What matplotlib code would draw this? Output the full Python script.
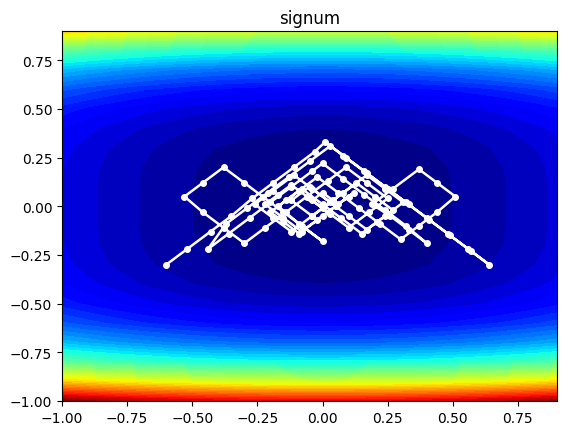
import numpy as np
import matplotlib
matplotlib.use("Agg")
import matplotlib.pyplot as plt

# optimizer path
path_x = [-0.60, -0.52, -0.43, -0.35, -0.27, -0.19, -0.11, -0.03, 0.01,
          0.09, 0.17, 0.25, 0.33, 0.41, 0.49, 0.57, 0.64,
          0.56, 0.48, 0.40, 0.32, 0.24, 0.16, 0.08, 0.03,
          -0.05, -0.13, -0.21, -0.29, -0.37, -0.44,
          -0.36, -0.28, -0.20, -0.12, -0.04, 0.00,
          0.08, 0.16, 0.24, 0.32, 0.40,
          0.33, 0.26, 0.19, 0.27, 0.37, 0.44, 0.51, 0.44, 0.37, 0.30,
          0.22, 0.14, 0.06, -0.02, -0.09, -0.17, -0.09, 0.00,
          -0.08, -0.15, -0.23, -0.30, -0.38, -0.46, -0.53, -0.46, -0.38, -0.30,
          -0.22, -0.14, -0.06, 0.02, 0.09, 0.17, 0.25, 0.18, 0.10,
          0.03, -0.05, -0.12, -0.17, -0.22, -0.15, -0.08, 0.00, 0.06, 0.12,
          0.05, -0.05, -0.12, -0.04, 0.04, 0.00, -0.04, 0.00,
          0.08, 0.17, 0.24, 0.31, 0.24, 0.17, 0.10, 0.03, -0.04, -0.11,
          -0.19, -0.26, -0.19, -0.12, -0.04, 0.04, 0.13, 0.20, 0.27,
          0.21, 0.15, 0.07, 0.00, -0.08, -0.14, -0.20, -0.15, -0.09,
          -0.02, 0.05, 0.10]
path_y = [-0.30, -0.22, -0.13, -0.05, 0.04, 0.12, 0.20, 0.28, 0.33,
          0.25, 0.17, 0.09, 0.01, -0.07, -0.15, -0.23, -0.30,
          -0.22, -0.14, -0.06, 0.02, 0.10, 0.18, 0.26, 0.31,
          0.23, 0.15, 0.07, -0.01, -0.09, -0.22,
          -0.14, -0.06, 0.02, 0.10, 0.18, 0.22,
          0.14, 0.06, -0.02, -0.10, -0.19,
          -0.12, -0.05, 0.01, 0.09, 0.19, 0.12, 0.05, -0.03, -0.10, -0.17,
          -0.09, -0.01, 0.07, 0.15, 0.08, 0.00, -0.09, -0.18,
          -0.10, -0.03, 0.05, 0.12, 0.20, 0.12, 0.05, -0.03, -0.11, -0.19,
          -0.11, -0.03, 0.05, 0.13, 0.20, 0.12, 0.04, -0.03, -0.11,
          -0.04, 0.04, 0.11, 0.06, 0.01, -0.06, -0.13, -0.05, 0.01, 0.07,
          0.00, 0.10, 0.03, -0.05, 0.03, 0.07, 0.03, -0.01,
          0.07, 0.16, 0.09, 0.02, -0.05, -0.12, -0.05, 0.02, 0.09, 0.16,
          0.08, 0.01, -0.06, -0.13, -0.05, 0.03, 0.12, 0.05, -0.02,
          -0.08, -0.14, -0.06, 0.01, 0.09, 0.03, -0.03, -0.08, -0.14,
          -0.07, 0.00, 0.05]

# surface coefficients
coef_x2 = 1.0
coef_y4 = 10.0
level_step = 0.25

xs = np.arange(-1, 1, 0.1)
ys = np.arange(-1, 1, 0.1)
X, Y = np.meshgrid(xs, ys)
Z = coef_x2 * X**2 + coef_y4 * Y**4
levels = np.arange(0, Z.max() + level_step, level_step)

fig = plt.figure(figsize=(5.68, 4.35), dpi=100)
ax = fig.add_axes([62 / 568, 33 / 435, 495 / 568, 370 / 435])
ax.contourf(X, Y, Z, levels=levels, cmap="jet")
ax.plot(path_x, path_y, "-o", color="white", ms=4, lw=1.8)
ax.set_title("signum")
fig.savefig("out.png", dpi=100)
